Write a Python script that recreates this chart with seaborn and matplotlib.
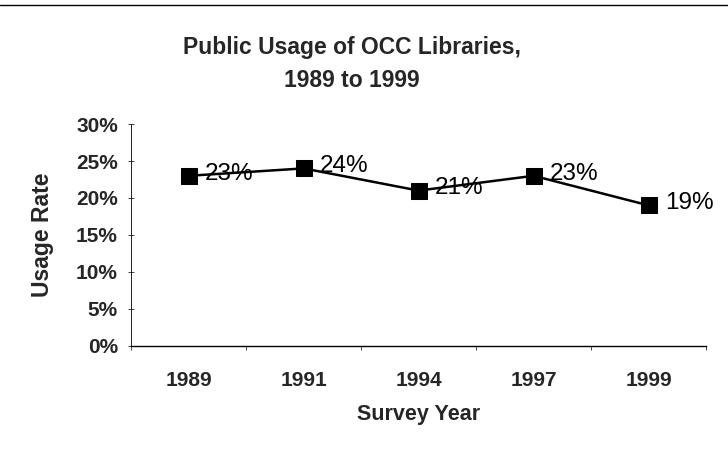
import matplotlib
matplotlib.use("Agg")
import matplotlib.pyplot as plt
import seaborn as sns
import pandas as pd
from matplotlib.ticker import MultipleLocator, FuncFormatter
from matplotlib.lines import Line2D

years = ["1989", "1991", "1994", "1997", "1999"]
usage = [23, 24, 21, 23, 19]
y_ticks = [0, 5, 10, 15, 20, 25, 30]

sns.set_theme(style="white")
plt.rcParams["font.family"] = ["Liberation Sans", "DejaVu Sans"]

df = pd.DataFrame({"pos": range(len(years)), "year": years, "usage": usage})

fig = plt.figure(figsize=(7.28, 4.51), dpi=100)
ax = fig.add_axes([0.18, 0.233, 0.79, 0.492])

sns.lineplot(data=df, x="pos", y="usage", ax=ax, color="black", linewidth=1.8,
             marker="s", markersize=11, markeredgecolor="black",
             markerfacecolor="black")

for p, v in zip(df["pos"], df["usage"]):
    ax.text(p + 0.14, v + 0.3, f"{v}%", fontsize=17.5, va="center", ha="left",
            color="black")

ax.set_xlim(-0.5, len(years) - 0.5)
ax.set_ylim(0, 30)
ax.set_yticks(y_ticks)
ax.yaxis.set_major_formatter(FuncFormatter(lambda v, _: f"{v:.0f}%"))
ax.set_xticks(range(len(years)))
ax.set_xticklabels(years)
ax.xaxis.set_minor_locator(MultipleLocator(1, offset=0.5))

for s in ["top", "right"]:
    ax.spines[s].set_visible(False)
ax.spines["left"].set_linewidth(0.6)
ax.spines["bottom"].set_linewidth(1.0)
for s in ["left", "bottom"]:
    ax.spines[s].set_color("black")

ax.tick_params(axis="y", which="major", direction="inout", length=5, width=0.6,
               labelsize=15, pad=7, left=True)
ax.tick_params(axis="x", which="major", length=0, labelsize=15, pad=18)
ax.tick_params(axis="x", which="minor", direction="out", length=3, width=0.6,
               bottom=True)
for lab in ax.get_yticklabels() + ax.get_xticklabels():
    lab.set_fontweight("bold")

ax.set_xlabel("Survey Year", fontsize=15.5, fontweight="bold", labelpad=10)
ax.set_ylabel("Usage Rate", fontsize=16.5, fontweight="bold")
ax.yaxis.set_label_coords(-0.134, 0.5)

fig.text(0.483, 0.858, "Public Usage of OCC Libraries,\n1989 to 1999",
         ha="center", va="center", fontsize=16.5, fontweight="bold",
         linespacing=1.55)

# thin rule along the top edge of the page
fig.add_artist(Line2D([0, 1], [0.988, 0.988], transform=fig.transFigure,
                      color="black", linewidth=1.0))

fig.savefig("out.png", dpi=100)
